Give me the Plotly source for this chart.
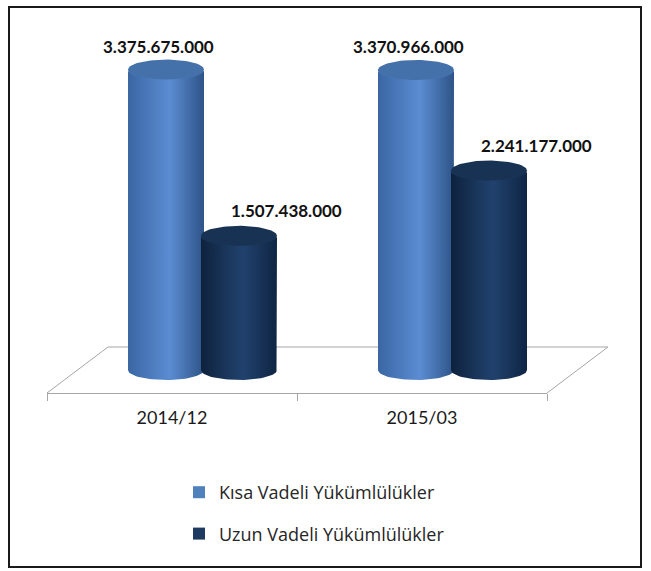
import numpy as np
import plotly.graph_objects as go

# ---------------- data ----------------
categories = ["2014/12", "2015/03"]
kisa_vadeli = [3375675000, 3370966000]
uzun_vadeli = [1507438000, 2241177000]
series_names = ["Kısa Vadeli Yükümlülükler", "Uzun Vadeli Yükümlülükler"]

# ---------------- style / geometry ----------------
W, H = 651, 571
PX_PER_X = 250.0          # pixels per category step
PX_PER_V = 89.0e-9        # pixels per value unit
X0_PX, Y0_PX = 202.5, 370  # pixel of category 0 / value 0 (mid floor depth)

RX = 38 / PX_PER_X         # cylinder radius (x units)
RY = 10 / PX_PER_V         # ellipse half height (value units)
OFFSET = 36.5 / PX_PER_X   # series offset from group centre
DEPTH_X = 30.5 / PX_PER_X  # floor half depth
DEPTH_Y = 23 / PX_PER_V

FONT = "Lato"
series_style = [
    dict(name=series_names[0], values=kisa_vadeli, dx=-OFFSET, flat="#4f81bd",
         grad=[[0, "#3a66a3"], [0.55, "#5b8cd2"], [1, "#2e5488"]], cap="#4571aa",
         lab_dx=-8, lab_dy=23),
    dict(name=series_names[1], values=uzun_vadeli, dx=OFFSET, flat="#1f3a60",
         grad=[[0, "#0e223d"], [0.55, "#21426e"], [1, "#0f2543"]], cap="#173253",
         lab_dx=47, lab_dy=25),
]

xr = [(0 - X0_PX) / PX_PER_X, (W - X0_PX) / PX_PER_X]
yr = [(Y0_PX - H) / PX_PER_V, (Y0_PX - 0) / PX_PER_V]

fig = go.Figure()
idx = np.arange(len(categories))

# real bar traces (legend + values); covered by cylinder shading below
for s in series_style:
    fig.add_trace(go.Bar(
        x=idx + s["dx"], y=s["values"], width=2 * RX * 0.97, name=s["name"],
        marker=dict(color=s["flat"], line=dict(width=0)),
        legendgroup=s["name"], customdata=categories,
        hovertemplate="%{customdata}<br>%{y:,.0f}<extra>" + s["name"] + "</extra>",
    ))

# floor (three back edges, front edge is the category axis line)
fl_x = [-0.5 - DEPTH_X, -0.5 + DEPTH_X, len(categories) - 0.5 + DEPTH_X, len(categories) - 0.5 - DEPTH_X]
fl_y = [-DEPTH_Y, DEPTH_Y, DEPTH_Y, -DEPTH_Y]
fig.add_trace(go.Scatter(x=fl_x, y=fl_y, mode="lines", line=dict(color="#a6a6a6", width=1),
                         hoverinfo="skip", showlegend=False))

t_front = np.linspace(np.pi, 2 * np.pi, 40)
t_full = np.linspace(0, 2 * np.pi, 80)
for s in series_style:
    for i, v in enumerate(s["values"]):
        cx = i + s["dx"]
        bx = np.concatenate([[cx - RX], cx + RX * np.cos(t_front), [cx + RX], cx + RX * np.cos(t_front[::-1]), [cx - RX]])
        by = np.concatenate([[0], v + RY * np.sin(t_front), [0], RY * np.sin(t_front[::-1]), [0]])
        fig.add_trace(go.Scatter(
            x=bx, y=by, mode="lines", fill="toself", line=dict(width=0),
            fillgradient=dict(type="horizontal", colorscale=s["grad"]),
            hoverinfo="skip", showlegend=False))
        fig.add_trace(go.Scatter(
            x=cx + RX * np.cos(t_full), y=v + RY * np.sin(t_full), mode="lines", fill="toself",
            line=dict(width=0), fillcolor=s["cap"], hoverinfo="skip", showlegend=False))
        fig.add_annotation(
            x=cx, y=v, xref="x", yref="y", text=f"{v:,}".replace(",", "."), showarrow=False,
            xshift=s["lab_dx"], yshift=s["lab_dy"],
            font=dict(family=FONT, size=17, color="#111111", weight="bold"))

# category axis (front edge of the floor)
fig.add_trace(go.Scatter(x=categories, y=[0.5] * len(categories), xaxis="x2", yaxis="y2",
                         mode="markers", marker=dict(opacity=0), hoverinfo="skip", showlegend=False))

front_px = Y0_PX + DEPTH_Y * PX_PER_V
left_px = X0_PX + (-0.5 - DEPTH_X) * PX_PER_X
right_px = X0_PX + (len(categories) - 0.5 - DEPTH_X) * PX_PER_X

fig.update_layout(
    width=W, height=H, autosize=False,
    margin=dict(l=0, r=0, t=0, b=0),
    paper_bgcolor="white", plot_bgcolor="rgba(0,0,0,0)",
    barmode="overlay",
    xaxis=dict(range=xr, domain=[0, 1], visible=False, fixedrange=True),
    yaxis=dict(range=yr, domain=[0, 1], visible=False, fixedrange=True),
    xaxis2=dict(type="category", categoryorder="array", categoryarray=categories,
                range=[-0.5, len(categories) - 0.5], domain=[left_px / W, right_px / W],
                anchor="y2", tickson="boundaries", ticks="outside", ticklen=7,
                tickcolor="#a6a6a6", showline=True, linecolor="#a6a6a6", linewidth=1,
                showgrid=False, zeroline=False, ticklabelstandoff=8,
                tickfont=dict(family=FONT, size=18, color="#1a1a1a"), fixedrange=True),
    yaxis2=dict(domain=[(H - front_px) / H, 1], anchor="x2", range=[0, 1], visible=False,
                fixedrange=True),
    legend=dict(x=179 / W, y=1 - 474 / H, xanchor="left", yanchor="top",
                bgcolor="rgba(0,0,0,0)", tracegroupgap=15,
                font=dict(family="Open Sans", size=18, color="#262626")),
    shapes=[dict(type="rect", xref="paper", yref="paper", x0=9 / W, x1=641 / W,
                 y0=1 - 567 / H, y1=1 - 7 / H, line=dict(color="#1a1a1a", width=2))],
)

fig.write_html("out.html")
